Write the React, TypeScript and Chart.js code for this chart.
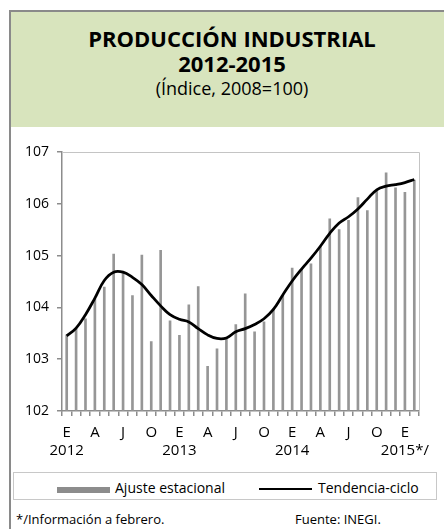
import React, { useEffect, useRef } from "react";
import { Chart, registerables } from "chart.js";

Chart.register(...registerables);

const monthLetters = ["E", "F", "M", "A", "M", "J", "J", "A", "S", "O", "N", "D"];
const years = ["2012", "2013", "2014", "2015*/"];
const categories: string[] = [];
for (let y = 0; y < 4; y++) {
  for (let m = 0; m < 12; m++) {
    if (y === 3 && m > 1) break;
    categories.push(monthLetters[m] + " " + years[y]);
  }
}

const ajusteEstacional = [
  103.47, 103.58, 103.78, 104.17, 104.39, 105.03, 104.66, 104.23, 105.01, 103.34, 105.1, 103.74,
  103.46, 104.05, 104.4, 102.86, 103.2, 103.4, 103.67, 104.26, 103.53, 103.72, 103.97, 104.23,
  104.76, 104.73, 104.84, 105.17, 105.71, 105.5, 105.68, 106.12, 105.87, 106.25, 106.6, 106.31,
  106.22, 106.46,
];

const tendenciaCiclo = [
  103.45, 103.6, 103.86, 104.18, 104.52, 104.68, 104.68, 104.58, 104.44, 104.23, 104.03, 103.86,
  103.77, 103.72, 103.59, 103.47, 103.4, 103.41, 103.53, 103.59, 103.67, 103.78, 103.96, 104.24,
  104.51, 104.74, 104.95, 105.18, 105.43, 105.63, 105.75, 105.9, 106.09, 106.27, 106.34, 106.37,
  106.41, 106.47,
];

const yTicks = [102, 103, 104, 105, 106, 107];

const FONT = "'Open Sans', 'Noto Sans', sans-serif";

const frameBorder: any = {
  id: "frameBorder",
  beforeDatasetsDraw(chart: any) {
    const { ctx, chartArea } = chart;
    ctx.save();
    ctx.strokeStyle = "#c4c4c4";
    ctx.lineWidth = 1;
    ctx.beginPath();
    ctx.moveTo(chartArea.left, chartArea.top + 0.5);
    ctx.lineTo(chartArea.right + 0.5, chartArea.top + 0.5);
    ctx.lineTo(chartArea.right + 0.5, chartArea.bottom);
    ctx.stroke();
    ctx.restore();
  },
};

function ChartCanvas() {
  const ref = useRef<HTMLCanvasElement | null>(null);
  useEffect(() => {
    if (!ref.current) return;
    const chart = new Chart(ref.current, {
      type: "bar",
      data: {
        labels: categories,
        datasets: [
          {
            type: "line",
            label: "Tendencia-ciclo",
            data: tendenciaCiclo,
            borderColor: "#000000",
            borderWidth: 2.75,
            tension: 0.4,
            pointRadius: 0,
            fill: false,
            order: 0,
          } as any,
          {
            type: "bar",
            label: "Ajuste estacional",
            data: ajusteEstacional,
            backgroundColor: "#969696",
            barThickness: 2,
            order: 1,
          },
        ],
      },
      options: {
        animation: false,
        responsive: false,
        maintainAspectRatio: false,
        events: [],
        layout: { padding: { top: 24, right: 25, left: 0, bottom: 0 } },
        plugins: { legend: { display: false }, tooltip: { enabled: false } },
        scales: {
          x: {
            offset: true,
            grid: {
              display: true,
              offset: true,
              drawOnChartArea: false,
              drawTicks: true,
              tickLength: 5,
              color: "#8c8c8c",
              lineWidth: 1.5,
            },
            border: { display: true, color: "#8c8c8c", width: 1.5 },
            ticks: {
              autoSkip: false,
              maxRotation: 0,
              minRotation: 0,
              padding: 8,
              color: "#000",
              font: { family: FONT, size: 15, lineHeight: 1.2 },
              callback: (_v: any, i: number) => {
                if (i % 3 !== 0) return "";
                const m = monthLetters[i % 12];
                if (i % 12 === 0) return [m, years[Math.floor(i / 12)]];
                return m;
              },
            },
            afterFit: (s: any) => {
              s.height = 59;
            },
          },
          y: {
            min: 102,
            max: 107,
            afterBuildTicks: (s: any) => {
              s.ticks = yTicks.map((v) => ({ value: v }));
            },
            grid: {
              display: true,
              drawOnChartArea: false,
              drawTicks: true,
              tickLength: 5,
              color: "#8c8c8c",
              lineWidth: 1.5,
            },
            border: { display: true, color: "#8c8c8c", width: 1.5 },
            ticks: {
              padding: 8,
              color: "#000",
              font: { family: FONT, size: 14 },
            },
            afterFit: (s: any) => {
              s.width = 51;
            },
          },
        },
      },
      plugins: [frameBorder],
    });
    return () => chart.destroy();
  }, []);
  return (
    <canvas
      ref={ref}
      width={433}
      height={342}
      style={{ position: "absolute", left: 11, top: 128, width: 433, height: 342 }}
    />
  );
}

export default function App() {
  return (
    <div
      style={{
        position: "fixed",
        left: 0,
        top: 0,
        width: 444,
        height: 529,
        overflow: "hidden",
        background: "#fff",
        fontFamily: FONT,
        color: "#000",
      }}
    >
      <div
        style={{
          position: "absolute",
          left: 9,
          top: 10,
          width: 460,
          height: 560,
          borderLeft: "2px solid #8a8a8a",
          borderTop: "2px solid #8a8a8a",
          boxSizing: "border-box",
        }}
      />
      <div
        style={{
          position: "absolute",
          left: 11,
          top: 12,
          width: 450,
          height: 115,
          background: "#d8e4bd",
        }}
      />
      <div
        style={{
          position: "absolute",
          left: 11,
          top: 26,
          width: 442,
          textAlign: "center",
          fontWeight: 700,
          fontSize: 22,
          lineHeight: "25px",
          whiteSpace: "nowrap",
        }}
      >
        PRODUCCIÓN INDUSTRIAL
        <br />
        2012-2015
      </div>
      <div
        style={{
          position: "absolute",
          left: 11,
          top: 76,
          width: 442,
          textAlign: "center",
          fontSize: 18,
          lineHeight: "24px",
          whiteSpace: "nowrap",
        }}
      >
        (Índice, 2008=100)
      </div>
      <ChartCanvas />
      <div
        style={{
          position: "absolute",
          left: 13,
          top: 472,
          width: 424,
          height: 28,
          border: "1px solid #c8c8c8",
          boxSizing: "border-box",
        }}
      />
      <div
        style={{
          position: "absolute",
          left: 57,
          top: 487,
          width: 53,
          height: 6,
          background: "#8c8c8c",
        }}
      />
      <div
        style={{
          position: "absolute",
          left: 115,
          top: 479,
          fontSize: 14,
          lineHeight: "18px",
          whiteSpace: "nowrap",
        }}
      >
        Ajuste estacional
      </div>
      <div
        style={{
          position: "absolute",
          left: 259,
          top: 488,
          width: 53,
          height: 2,
          background: "#000",
        }}
      />
      <div
        style={{
          position: "absolute",
          left: 318,
          top: 479,
          fontSize: 14,
          lineHeight: "18px",
          whiteSpace: "nowrap",
        }}
      >
        Tendencia-ciclo
      </div>
      <div
        style={{
          position: "absolute",
          left: 16,
          top: 511,
          fontSize: 13,
          lineHeight: "17px",
          whiteSpace: "nowrap",
        }}
      >
        */Información a febrero.
      </div>
      <div
        style={{
          position: "absolute",
          left: 295,
          top: 511,
          fontSize: 13,
          lineHeight: "17px",
          whiteSpace: "nowrap",
        }}
      >
        Fuente: INEGI.
      </div>
    </div>
  );
}
